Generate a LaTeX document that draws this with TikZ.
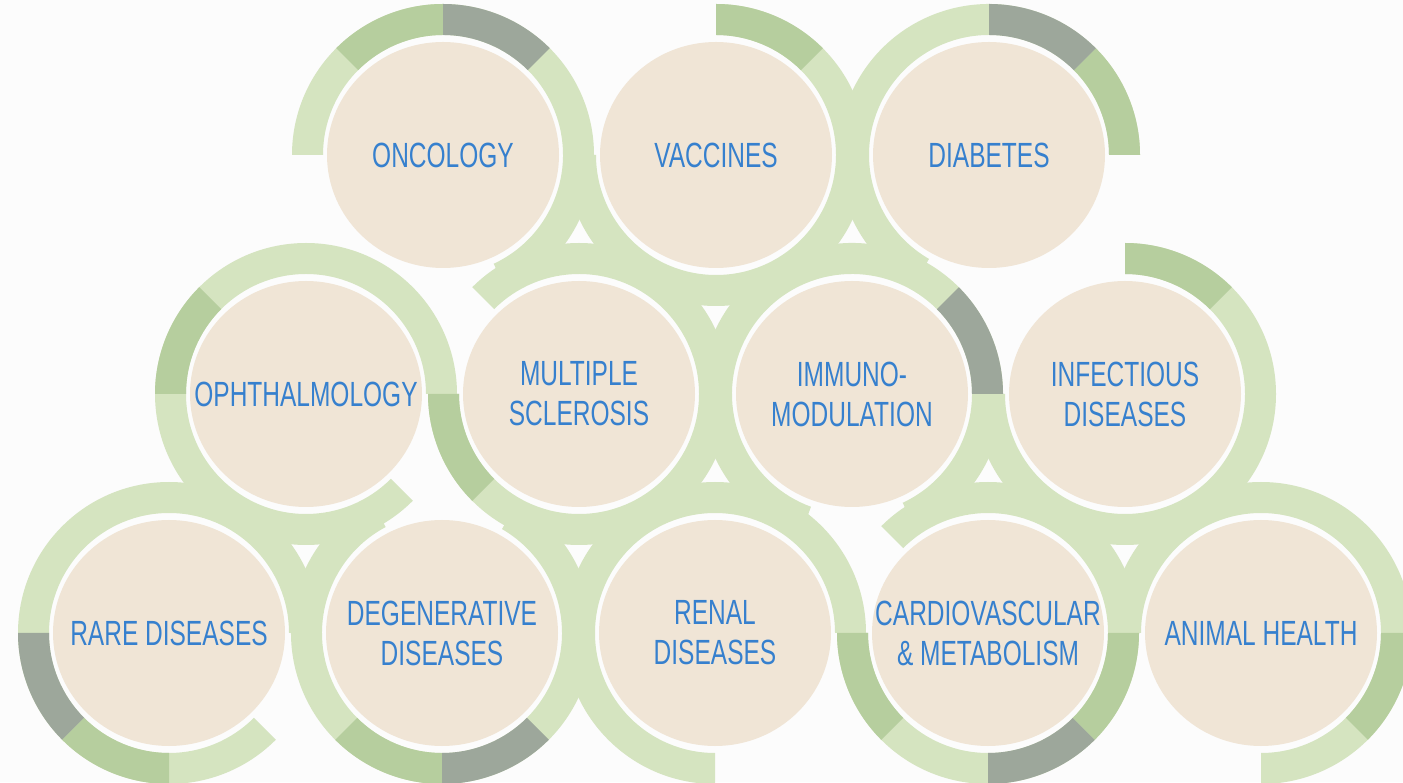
\documentclass[tikz,border=0pt]{standalone}
\usepackage{fontspec}
\usetikzlibrary{backgrounds}
\newfontfamily\areafont{Liberation Sans}[FakeStretch=0.7]
\definecolor{paper}{RGB}{252,252,252}
\definecolor{ringlight}{RGB}{213,228,192}
\definecolor{ringmid}{RGB}{182,206,158}
\definecolor{ringgrey}{RGB}{157,167,155}
\definecolor{areafill}{RGB}{240,229,214}
\definecolor{areablue}{RGB}{54,128,206}
\tikzset{area/.style={inner sep=0pt,align=center,text=areablue,
                      font=\areafont\fontsize{17.5}{20}\selectfont}}
\newcommand{\ringseg}[4]{\fill[#4,shift={(#1.center)}]
                        (#2:120) arc[start angle=#2,end angle=#3,radius=120]
                        -- (#3:151) arc[start angle=#3,end angle=#2,radius=151]
                        -- cycle;}

\begin{document}
\begin{tikzpicture}[x=0.5pt,y=0.5pt]
        \useasboundingbox (0,0) rectangle (1403,782);
        % Areas
        \foreach \name/\txt [count=\i from 0] in {onc/ONCOLOGY,vac/VACCINES,dia/DIABETES}{%
              \node[area] (\name) at ({443+273*\i},627) {\txt};
            }
        \foreach \name/\txt [count=\i from 0] in {oph/OPHTHALMOLOGY,ms/{MULTIPLE\\SCLEROSIS},
                                                  imm/{IMMUNO-\\MODULATION},inf/{INFECTIOUS\\DISEASES}}{%
              \node[area] (\name) at ({306+273*\i},388) {\txt};
            }
        \foreach \name/\txt [count=\i from 0] in {rare/RARE DISEASES,deg/{DEGENERATIVE\\DISEASES},
                                                  ren/{RENAL\\DISEASES},car/{CARDIOVASCULAR\\\& METABOLISM},
                                                  ani/ANIMAL HEALTH}{%
              \node[area] (\name) at ({169+273*\i},149) {\txt};
            }
        % Rings
        \begin{scope}[on background layer]
           \clip (0,0) rectangle (1403,782);
           \fill[paper] (0,0) rectangle (1403,782);
           \foreach \n/\sa/\sb in {onc/-65/180,vac/-180/90,dia/0/240,oph/0/315,
                                   ms/180/495,imm/-65/250,inf/-180/90,rare/0/315,
                                   deg/118/420,ren/0/270,car/180/495,ani/-90/180}{%
                 \ringseg{\n}{\sa}{\sb}{ringlight}
               }
           \foreach \n/\sa/\sb/\col in {onc/90/135/ringmid,onc/45/90/ringgrey,
                                        vac/45/90/ringmid,dia/0/45/ringmid,dia/45/90/ringgrey,
                                        oph/135/180/ringmid,ms/180/225/ringmid,
                                        imm/0/45/ringgrey,inf/45/90/ringmid,
                                        rare/180/225/ringgrey,rare/225/270/ringmid,
                                        deg/225/270/ringmid,deg/270/315/ringgrey,
                                        car/180/225/ringmid,car/270/315/ringgrey,
                                        car/315/360/ringmid,ani/315/360/ringmid}{%
                 \ringseg{\n}{\sa}{\sb}{\col}
               }
           % Discs
           \foreach \n in {onc,vac,dia,oph,ms,imm,inf,rare,deg,ren,car,ani}{%
                 \fill[areafill] (\n.center) ellipse[x radius=116,y radius=113];
               }
        \end{scope}
\end{tikzpicture}
\end{document}
